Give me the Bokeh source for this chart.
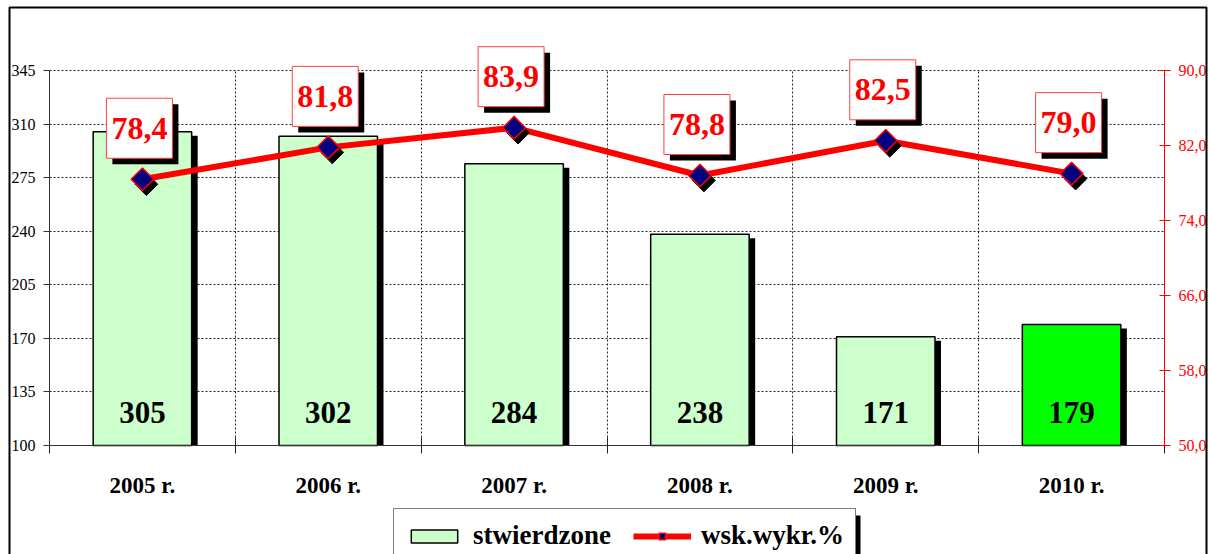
import numpy as np
from bokeh.plotting import figure
from bokeh.models import (Range1d, LinearAxis, FixedTicker, Grid, ColumnDataSource, LabelSet,
                          Legend, LegendItem, BoxAnnotation, CustomJSTickFormatter)
from bokeh.embed import file_html
from bokeh.resources import INLINE

# ---------------- data ----------------
years = ["2005 r.", "2006 r.", "2007 r.", "2008 r.", "2009 r.", "2010 r."]
stwierdzone = [305, 302, 284, 238, 171, 179]
wsk_wykr = [78.4, 81.8, 83.9, 78.8, 82.5, 79.0]
bar_colors = ["#CCFFCC", "#CCFFCC", "#CCFFCC", "#CCFFCC", "#CCFFCC", "#00FF00"]
left_ticks = [100, 135, 170, 205, 240, 275, 310, 345]
right_ticks = [50, 58, 66, 74, 82, 90]

# ---------------- layout constants (canvas pixels) ----------------
W, H = 1210, 554
PX_L, PX_R, PX_T, PX_B = 49, 1164, 70, 445   # plot area
Y_MIN, Y_MAX = 100, 345
P_MIN, P_MAX = 50, 90
N = len(years)
px_x = (PX_R - PX_L) / N
px_y = (PX_B - PX_T) / (Y_MAX - Y_MIN)
px_p = (PX_B - PX_T) / (P_MAX - P_MIN)

x_start, x_end = 0 - PX_L / px_x, N + (W - PX_R) / px_x
y_start, y_end = Y_MIN - (H - PX_B) / px_y, Y_MAX + PX_T / px_y
p_start, p_end = P_MIN - (H - PX_B) / px_p, P_MAX + PX_T / px_p


def X(px):
    return x_start + px / px_x


def Y(py):
    return y_end - py / px_y


SERIF = "Liberation Serif"
xs = [i + 0.5 for i in range(N)]

p = figure(width=W, height=H, x_range=Range1d(x_start, x_end), y_range=Range1d(y_start, y_end),
           output_backend="svg", toolbar_location=None,
           x_axis_location=None, y_axis_location=None,
           min_border=0, min_border_left=0, min_border_right=0, min_border_top=0, min_border_bottom=0)
# drop any default grids
p.center = [r for r in p.center if not isinstance(r, Grid)]
p.extra_y_ranges = {"pct": Range1d(p_start, p_end)}
p.outline_line_color = None
p.background_fill_color = "white"
p.border_fill_color = "white"

# ---------------- axes ----------------
xaxis = LinearAxis(ticker=FixedTicker(ticks=xs, minor_ticks=list(range(N + 1))),
                   formatter=CustomJSTickFormatter(args=dict(labels=years),
                                                   code="return labels[Math.round(tick - 0.5)] || '';"),
                   fixed_location=Y_MIN, bounds=(0, N))
xaxis.major_tick_in = 0
xaxis.major_tick_out = 0
xaxis.minor_tick_in = 8
xaxis.minor_tick_out = 8
xaxis.minor_tick_line_color = "#222222"
xaxis.axis_line_color = "#333333"
xaxis.major_label_standoff = 19
xaxis.major_label_text_font = SERIF
xaxis.major_label_text_font_style = "bold"
xaxis.major_label_text_font_size = "23px"
xaxis.major_label_text_color = "black"
p.add_layout(xaxis, "below")

yaxis = LinearAxis(ticker=FixedTicker(ticks=left_ticks), fixed_location=0, bounds=(Y_MIN, Y_MAX))
yaxis.major_tick_in = 0
yaxis.major_tick_out = 6
yaxis.major_tick_line_color = "#333333"
yaxis.axis_line_color = "#333333"
yaxis.major_label_standoff = 8
yaxis.major_label_text_font = SERIF
yaxis.major_label_text_font_size = "16px"
yaxis.major_label_text_color = "black"
p.add_layout(yaxis, "left")

raxis = LinearAxis(y_range_name="pct", ticker=FixedTicker(ticks=right_ticks),
                   formatter=CustomJSTickFormatter(code="return tick.toFixed(1).replace('.', ',');"),
                   fixed_location=N, bounds=(P_MIN, P_MAX))
raxis.major_tick_in = 5
raxis.major_tick_out = 6
raxis.major_tick_line_color = "red"
raxis.axis_line_color = "red"
raxis.major_label_standoff = 8
raxis.major_label_text_font = SERIF
raxis.major_label_text_font_size = "16px"
raxis.major_label_text_color = "red"
p.add_layout(raxis, "right")

# ---------------- grids ----------------
grid_style = dict(grid_line_color="#222222", grid_line_dash="2 2", grid_line_width=1)
try:
    ygrid = Grid(dimension=1, ticker=FixedTicker(ticks=left_ticks), cross_bounds=(0, N), **grid_style)
    xgrid = Grid(dimension=0, ticker=FixedTicker(ticks=list(range(1, N))),
                 cross_bounds=(Y_MIN, Y_MAX), **grid_style)
    p.add_layout(ygrid)
    p.add_layout(xgrid)
except Exception:
    p.segment(x0=0, x1=N, y0=left_ticks, y1=left_ticks, line_color="#222222",
              line_dash="2 2", line_width=1)
    p.segment(x0=list(range(1, N)), x1=list(range(1, N)), y0=Y_MIN, y1=Y_MAX,
              line_color="#222222", line_dash="2 2", line_width=1)

# ---------------- bars ----------------
BAR_W = 0.53
src = ColumnDataSource(dict(x=xs, top=stwierdzone, color=bar_colors,
                            sx=[x + 6 / px_x for x in xs],
                            stop=[v - 4 / px_y for v in stwierdzone],
                            base=[Y_MIN] * N,
                            txt=[str(v) for v in stwierdzone]))
p.vbar(x="sx", top="stop", bottom=Y_MIN, width=BAR_W, source=src,
       fill_color="black", line_color=None)
bars = p.vbar(x="x", top="top", bottom=Y_MIN, width=BAR_W, source=src,
              fill_color="color", line_color="black", line_width=1.5)

p.add_layout(LabelSet(x="x", y="base", text="txt", source=src, y_offset=33,
                      text_align="center", text_baseline="middle",
                      text_font=SERIF, text_font_style="bold", text_font_size="31px",
                      text_color="black"))

# ---------------- line ----------------
line_r = p.line(xs, wsk_wykr, y_range_name="pct", line_color="red", line_width=6)
p.scatter([x + 4 / px_x for x in xs], [v - 5 / px_p for v in wsk_wykr], y_range_name="pct",
          marker="square", angle=np.pi / 4, size=16, fill_color="black", line_color="black")
mark_r = p.scatter(xs, wsk_wykr, y_range_name="pct", marker="square", angle=np.pi / 4,
                   size=16, fill_color="#000080", line_color="red", line_width=1.5)

# value boxes above the points
lsrc = ColumnDataSource(dict(
    bx=[x - 3 / px_x for x in xs],
    by=[v + 51 / px_p for v in wsk_wykr],
    sbx=[x + 3 / px_x for x in xs],
    sby=[v + 45 / px_p for v in wsk_wykr],
    txt=[f"{v:.1f}".replace(".", ",") for v in wsk_wykr]))
p.rect(x="sbx", y="sby", width=66, height=60, width_units="screen", height_units="screen",
       source=lsrc, y_range_name="pct", fill_color="black", line_color=None)
p.rect(x="bx", y="by", width=66, height=60, width_units="screen", height_units="screen",
       source=lsrc, y_range_name="pct", fill_color="white", line_color="#FF4040", line_width=1)
p.add_layout(LabelSet(x="bx", y="by", text="txt", source=lsrc, y_range_name="pct",
                      text_align="center", text_baseline="middle",
                      text_font=SERIF, text_font_style="bold", text_font_size="32px",
                      text_color="red"))

# ---------------- legend ----------------
p.add_layout(BoxAnnotation(left=X(853), right=X(860), top=Y(515), bottom=Y(620),
                           fill_color="black", fill_alpha=1, line_color=None))
legend = Legend(items=[LegendItem(label="stwierdzone", renderers=[bars]),
                       LegendItem(label="wsk.wykr.%", renderers=[line_r, mark_r])],
                orientation="horizontal", location=(393, -9),
                glyph_width=58, glyph_height=16, label_standoff=10, spacing=22,
                padding=11, margin=0, border_line_color="black", border_line_width=1,
                background_fill_color="white", background_fill_alpha=1,
                label_text_font=SERIF, label_text_font_style="bold",
                label_text_font_size="27px", label_text_color="black")
p.add_layout(legend)

# ---------------- outer border ----------------
p.add_layout(BoxAnnotation(left=X(9), right=X(1206), top=Y(7), bottom=Y(640),
                           fill_color=None, fill_alpha=0, line_color="black",
                           line_alpha=1, line_width=2))

open("out.html", "w").write(file_html(p, INLINE))
